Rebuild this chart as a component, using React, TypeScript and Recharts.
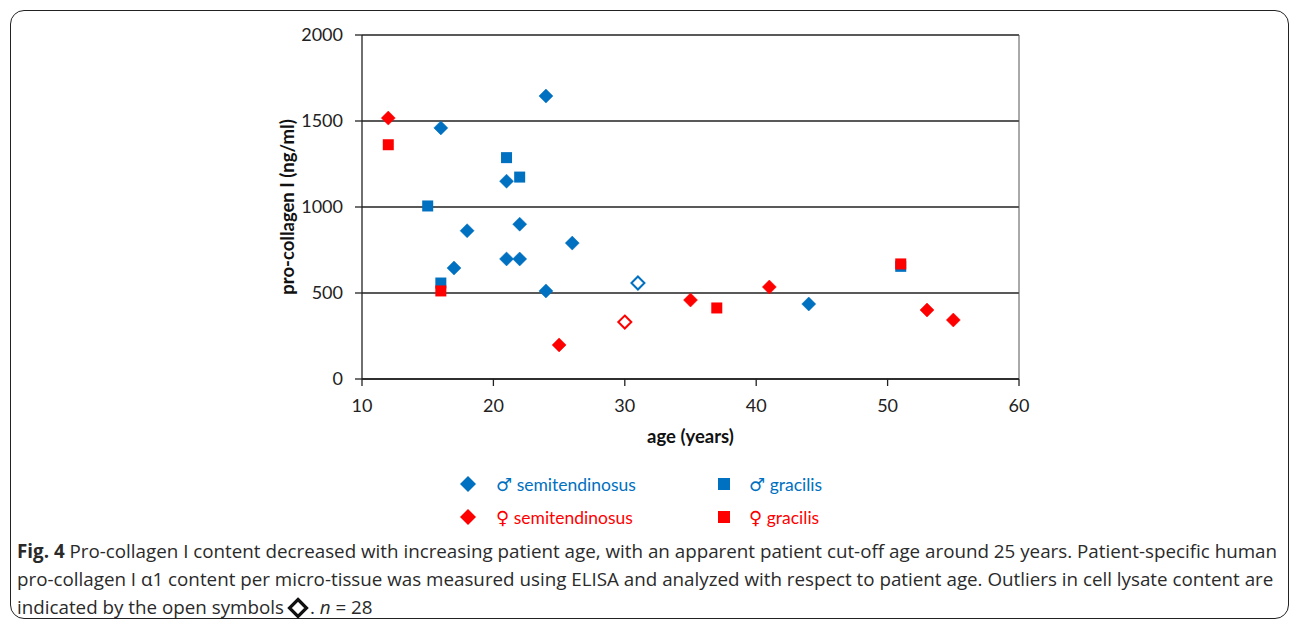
import React from 'react';
import { ScatterChart, Scatter, XAxis, YAxis, CartesianGrid, ReferenceLine, Label } from 'recharts';

const BLUE = '#0070C0';
const RED = '#FF0000';

const xTicks = [10, 20, 30, 40, 50, 60];
const yTicks = [0, 500, 1000, 1500, 2000];

const maleSemitendinosus = [
  { age: 16, value: 1460 },
  { age: 24, value: 1645 },
  { age: 21, value: 1150 },
  { age: 22, value: 900 },
  { age: 18, value: 862 },
  { age: 26, value: 790 },
  { age: 21, value: 698 },
  { age: 22, value: 698 },
  { age: 17, value: 645 },
  { age: 24, value: 512 },
  { age: 44, value: 436 },
];
const maleSemitendinosusOutliers = [{ age: 31, value: 558 }];

const maleGracilis = [
  { age: 21, value: 1287 },
  { age: 22, value: 1174 },
  { age: 15, value: 1006 },
  { age: 16, value: 558 },
  { age: 51, value: 655 },
];

const femaleSemitendinosus = [
  { age: 12, value: 1517 },
  { age: 25, value: 198 },
  { age: 35, value: 459 },
  { age: 41, value: 535 },
  { age: 53, value: 401 },
  { age: 55, value: 343 },
];
const femaleSemitendinosusOutliers = [{ age: 30, value: 331 }];

const femaleGracilis = [
  { age: 12, value: 1362 },
  { age: 16, value: 512 },
  { age: 37, value: 413 },
  { age: 51, value: 669 },
];

const legendItems = [
  { sex: '♂', label: 'semitendinosus', color: BLUE, kind: 'diamond' },
  { sex: '♂', label: 'gracilis', color: BLUE, kind: 'square' },
  { sex: '♀', label: 'semitendinosus', color: RED, kind: 'diamond' },
  { sex: '♀', label: 'gracilis', color: RED, kind: 'square' },
];

const FONT = 'Lato, "Open Sans", sans-serif';

const diamond = (color: string, open = false) => (props: any) => {
  const { cx, cy } = props;
  const r = open ? 6.5 : 7;
  const pts = `${cx},${cy - r} ${cx + r},${cy} ${cx},${cy + r} ${cx - r},${cy}`;
  return open ? (
    <polygon points={pts} fill="#fff" stroke={color} strokeWidth={2} />
  ) : (
    <polygon points={pts} fill={color} stroke={color} strokeWidth={0.5} />
  );
};

const square = (color: string) => (props: any) => {
  const { cx, cy } = props;
  const s = 11;
  return <rect x={cx - s / 2} y={cy - s / 2} width={s} height={s} fill={color} />;
};

const LegendMarker = ({ kind, color }: { kind: string; color: string }) => (
  <svg width={18} height={18} style={{ display: 'block' }}>
    {kind === 'diamond' ? (
      <polygon points="9,1 17,9 9,17 1,9" fill={color} />
    ) : (
      <rect x={3} y={3} width={12} height={12} fill={color} />
    )}
  </svg>
);

const ChartLegend = () => (
  <div style={{ position: 'absolute', left: 459, top: 474, width: 420, height: 60, fontFamily: FONT, fontSize: 17.5 }}>
    {legendItems.map((it, i) => {
      const col = i % 2;
      const row = Math.floor(i / 2);
      const left = col === 0 ? 0 : 256;
      const top = row * 33;
      return (
        <div key={it.sex + it.label} style={{ position: 'absolute', left, top, display: 'flex', alignItems: 'center', height: 20 }}>
          <LegendMarker kind={it.kind} color={it.color} />
          <span style={{ color: it.color, marginLeft: col === 0 ? 19 : 16, whiteSpace: 'nowrap' }}>
            <span style={{ fontFamily: '"DejaVu Sans", sans-serif', fontSize: 18 }}>{it.sex}</span> {it.label}
          </span>
        </div>
      );
    })}
  </div>
);

const OpenDiamondIcon = () => (
  <svg width={22} height={22} style={{ verticalAlign: '-5px', margin: '0 1px 0 3px' }}>
    <polygon points="11,2.5 19.5,11 11,19.5 2.5,11" fill="#fff" stroke="#111" strokeWidth={3.2} />
  </svg>
);

export default function App() {
  return (
    <div style={{ position: 'absolute', left: 0, top: 0, width: 1292, height: 626, background: '#fff', overflow: 'hidden' }}>
      <div
        style={{
          position: 'absolute',
          left: 10,
          top: 10,
          width: 1279,
          height: 609,
          border: '1.6px solid #222',
          borderRadius: 14,
          boxSizing: 'border-box',
        }}
      />
      <div style={{ position: 'absolute', left: 0, top: 0 }}>
        <ScatterChart
          width={1292}
          height={626}
          margin={{ top: 35, right: 273, left: 282, bottom: 177 }}
          style={{ fontFamily: FONT }}
        >
          <CartesianGrid vertical={false} stroke="#222" strokeWidth={1.3} />
          <XAxis
            type="number"
            dataKey="age"
            domain={[10, 60]}
            ticks={xTicks}
            height={70}
            tickSize={7}
            tickMargin={13}
            axisLine={{ stroke: '#222', strokeWidth: 1.3 }}
            tickLine={{ stroke: '#222', strokeWidth: 1.3 }}
            tick={{ fill: '#222', fontSize: 18, fontFamily: FONT }}
            allowDataOverflow
          >
            <Label
              value="age (years)"
              position="insideBottom"
              offset={6}
              style={{ fontWeight: 700, fontSize: 18.5, fill: '#111', fontFamily: FONT }}
            />
          </XAxis>
          <YAxis
            type="number"
            dataKey="value"
            domain={[0, 2000]}
            ticks={yTicks}
            width={80}
            tickSize={7}
            tickMargin={12}
            axisLine={{ stroke: '#222', strokeWidth: 1.3 }}
            tickLine={{ stroke: '#222', strokeWidth: 1.3 }}
            tick={{ fill: '#222', fontSize: 18, fontFamily: FONT }}
            allowDataOverflow
          >
            <Label
              value="pro-collagen I (ng/ml)"
              angle={-90}
              position="insideLeft"
              offset={5}
              style={{ textAnchor: 'middle', fontWeight: 700, fontSize: 18.5, fill: '#111', fontFamily: FONT }}
            />
          </YAxis>
          <ReferenceLine x={60} stroke="#555" strokeWidth={1} />
          <Scatter name="♂ semitendinosus" data={maleSemitendinosus} shape={diamond(BLUE)} isAnimationActive={false} />
          <Scatter name="♂ semitendinosus outlier" data={maleSemitendinosusOutliers} shape={diamond(BLUE, true)} isAnimationActive={false} legendType="none" />
          <Scatter name="♂ gracilis" data={maleGracilis} shape={square(BLUE)} isAnimationActive={false} />
          <Scatter name="♀ semitendinosus" data={femaleSemitendinosus} shape={diamond(RED)} isAnimationActive={false} />
          <Scatter name="♀ semitendinosus outlier" data={femaleSemitendinosusOutliers} shape={diamond(RED, true)} isAnimationActive={false} legendType="none" />
          <Scatter name="♀ gracilis" data={femaleGracilis} shape={square(RED)} isAnimationActive={false} />
        </ScatterChart>
      </div>
      <ChartLegend />
      <div
        style={{
          position: 'absolute',
          left: 17,
          top: 537,
          fontFamily: '"Open Sans", sans-serif',
          fontSize: 18.8,
          lineHeight: '28px',
          color: '#2a2a2a',
        }}
      >
        <div style={{ whiteSpace: 'nowrap' }}>
          <b>Fig. 4</b> Pro-collagen I content decreased with increasing patient age, with an apparent patient cut-off age around 25 years. Patient-specific human
        </div>
        <div style={{ whiteSpace: 'nowrap' }}>
          pro-collagen I α1 content per micro-tissue was measured using ELISA and analyzed with respect to patient age. Outliers in cell lysate content are
        </div>
        <div style={{ whiteSpace: 'nowrap' }}>
          indicated by the open symbols<OpenDiamondIcon />. <i>n</i> = 28
        </div>
      </div>
    </div>
  );
}
